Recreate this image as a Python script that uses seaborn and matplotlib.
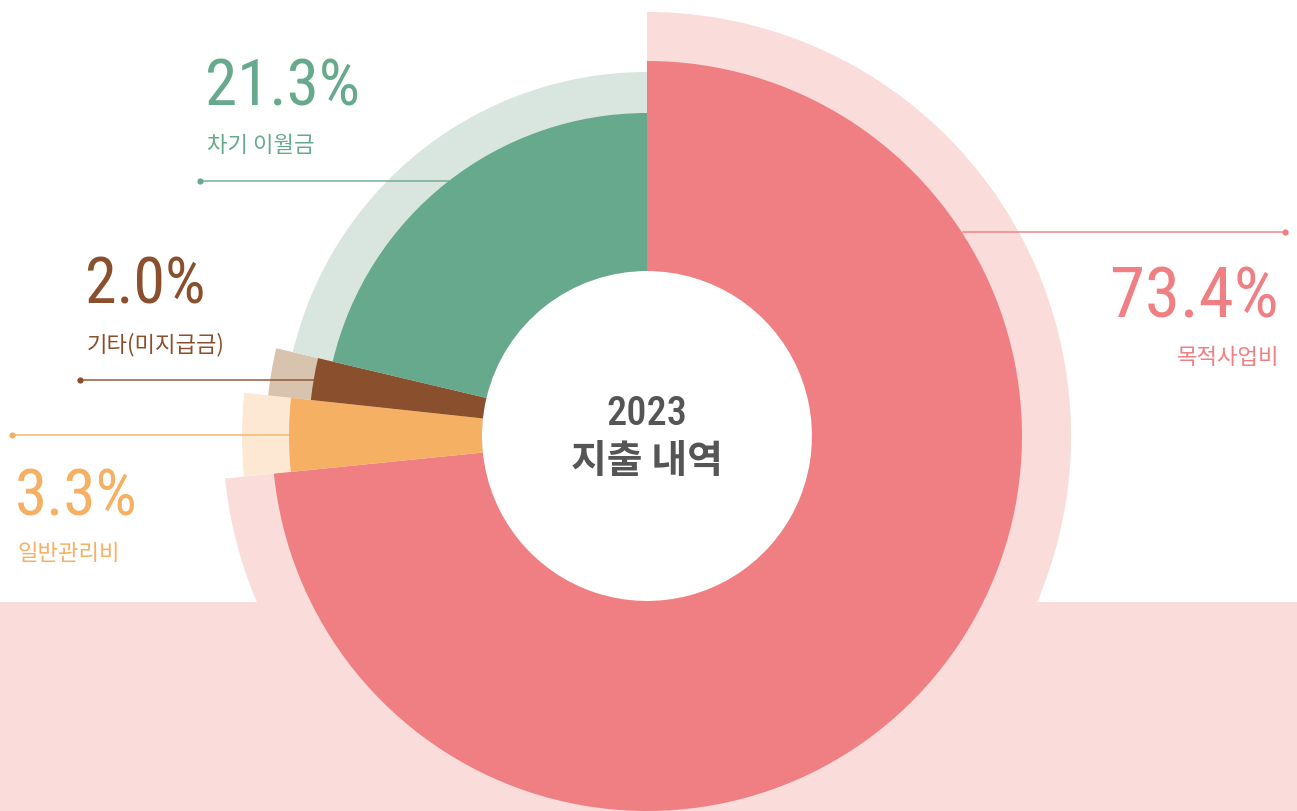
import os
import numpy as np
import matplotlib
matplotlib.use("Agg")
import matplotlib.pyplot as plt
import seaborn as sns
from matplotlib.patches import Rectangle
from matplotlib import font_manager as fm

# ---- data ----
categories = ['목적사업비', '일반관리비', '기타(미지급금)', '차기 이월금']
values = [73.4, 3.3, 2.0, 21.3]
center_year = '2023'
center_title = '지출 내역'

# ---- style ----
dark_colors = ['#EF7F82', '#F5B064', '#8A4F2C', '#67A98D']
light_colors = ['#FADCDA', '#FDE9D3', '#D8C3AF', '#D9E6DF']
dark_r = [375, 358, 338, 323]
light_r = [424, 405, 381, 364]
hole_r = 165

sns.set_theme(style='white')
kr = ['Noto Sans CJK KR', 'DejaVu Sans']
plt.rcParams['font.family'] = kr


def weight_of(base, f):
    for key, w in [('thin', 100), ('extralight', 200), ('light', 300), ('medium', 500),
                   ('semibold', 600), ('extrabold', 800), ('black', 900), ('bold', 700)]:
        if key in base:
            return w
    return 400


def find_narrow(want=400):
    prefs = ['liberationsansnarrow', 'robotocondensed', 'roboto_condensed', 'dejavusanscondensed',
             'notosanscondensed', 'notosans-condensed', 'opensanscondensed', 'opensans_condensed',
             'condensed', 'narrow']
    found = []
    for f in fm.fontManager.ttflist:
        base = os.path.basename(f.fname).lower().replace(' ', '')
        if not ('narrow' in base or 'condensed' in base):
            continue
        if 'italic' in base or 'oblique' in base:
            continue
        if 'semicondensed' in base or 'extracondensed' in base:
            continue
        w = weight_of(base.replace('condensed', '').replace('narrow', ''), f)
        rank = next((i for i, p in enumerate(prefs) if p in base), len(prefs))
        found.append((rank, abs(w - want), f.fname))
    if not found:
        return None
    found.sort()
    return found[0][2]


nf = find_narrow(400)
nfm = find_narrow(500)
num_prop = fm.FontProperties(fname=nf) if nf else fm.FontProperties(family='Liberation Sans')
num_prop_m = fm.FontProperties(fname=nfm) if nfm else num_prop

W, H = 1297, 811
fig = plt.figure(figsize=(W / 100, H / 100), dpi=100)
fig.patch.set_facecolor('white')

bg = fig.add_axes([0, 0, 1, 1], zorder=0)
bg.set_xlim(0, W)
bg.set_ylim(H, 0)
bg.axis('off')
bg.add_patch(Rectangle((0, 602), W, H - 602, color=light_colors[0], lw=0))

cx, cy, R = 647, 436, 450
pax = fig.add_axes([(cx - R) / W, (H - cy - R) / H, 2 * R / W, 2 * R / H],
                   projection='polar', zorder=1)
pax.set_theta_zero_location('N')
pax.set_theta_direction(-1)
pax.set_ylim(0, R)
pax.axis('off')
pax.patch.set_alpha(0)

vals = np.array(values)
widths = vals / vals.sum() * 2 * np.pi
starts = np.concatenate([[0], np.cumsum(widths)[:-1]])
for s, w, lr, lc in zip(starts, widths, light_r, light_colors):
    pax.bar(s, lr - hole_r, width=w, bottom=hole_r, align='edge', color=lc, lw=0)
for s, w, dr, dc in zip(starts, widths, dark_r, dark_colors):
    pax.bar(s, dr - hole_r, width=w, bottom=hole_r, align='edge', color=dc, lw=0)

fg = fig.add_axes([0, 0, 1, 1], zorder=2)
fg.set_xlim(0, W)
fg.set_ylim(H, 0)
fg.axis('off')
fg.patch.set_alpha(0)

layout = [
    (1279, 317, 'right', 358, 51, 232, 962, 1285, 1285),
    (15, 515, 'left', 553, 47, 435, 12, 290, 12),
    (85, 303, 'left', 345, 46, 380, 80, 317, 80),
    (205, 105, 'left', 146, 47, 181, 200, 449, 200),
]
for cat, v, c, (px, py, ha, ny, fs, ly, lx0, lx1, dx) in zip(categories, values, dark_colors, layout):
    p = num_prop.copy()
    p.set_size(fs)
    fg.text(px, py, f'{v}%', color=c, fontproperties=p, ha=ha, va='baseline')
    nx = px + (2 if ha == 'left' else 0)
    fg.text(nx, ny, cat, color=c, fontsize=16, ha=ha, va='center', family=kr)
    fg.plot([lx0, lx1], [ly, ly], color=c, lw=1.2, alpha=0.85, solid_capstyle='butt')
    fg.plot([dx], [ly], 'o', color=c, ms=4.5, mew=0)

pc = num_prop_m.copy()
pc.set_size(29)
fg.text(cx, 425, center_year, color='#555555', fontproperties=pc, ha='center', va='baseline')
fg.text(cx, 461, center_title, color='#555555', fontsize=28, ha='center', va='center',
        fontweight='bold', family=kr)

fig.savefig('out.png', dpi=100)
